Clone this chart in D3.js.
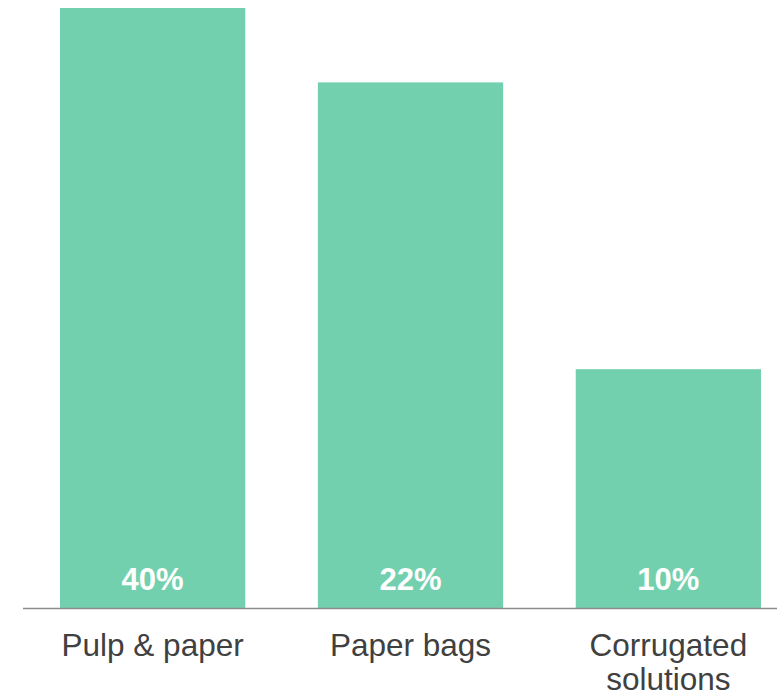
<!DOCTYPE html>
<html>
<head>
<meta charset="utf-8">
<script src="https://cdn.jsdelivr.net/npm/d3@7"></script>
<style>
  html, body { margin: 0; padding: 0; background: #ffffff; }
  svg { display: block; }
</style>
</head>
<body>
<svg id="chart" width="777" height="697"></svg>
<script>
// Segments, bar sizes (relative units) and the share printed inside each bar
const categories = [["Pulp & paper"], ["Paper bags"], ["Corrugated", "solutions"]];
const barValues = [5.0, 4.38, 1.99];
const shareLabels = ["40%", "22%", "10%"];

const svg = d3.select("#chart");
const baseline = 608;

const x = d3.scaleBand()
  .domain(d3.range(categories.length))
  .range([60, 761])
  .paddingInner(0.2816)
  .paddingOuter(0);

const y = d3.scaleLinear()
  .domain([0, 5])
  .range([baseline, 8]);

const fontFamily = "'Liberation Sans', Arial, Helvetica, sans-serif";

// Bars
svg.append("g")
  .selectAll("rect")
  .data(barValues)
  .join("rect")
  .attr("x", (d, i) => x(i))
  .attr("y", d => y(d))
  .attr("width", x.bandwidth())
  .attr("height", d => baseline - y(d))
  .attr("fill", "#73d0ae");

// Share labels inside the bars
svg.append("g")
  .selectAll("text")
  .data(shareLabels)
  .join("text")
  .attr("x", (d, i) => x(i) + x.bandwidth() / 2)
  .attr("y", 590)
  .attr("text-anchor", "middle")
  .attr("font-family", fontFamily)
  .attr("font-weight", "bold")
  .attr("font-size", 31)
  .attr("fill", "#ffffff")
  .text(d => d);

// Baseline
svg.append("line")
  .attr("x1", 23)
  .attr("x2", 777)
  .attr("y1", baseline + 0.5)
  .attr("y2", baseline + 0.5)
  .attr("stroke", "#8c8c8c")
  .attr("stroke-width", 1.5);

// Category labels
const cat = svg.append("g")
  .selectAll("text")
  .data(categories)
  .join("text")
  .attr("x", (d, i) => x(i) + x.bandwidth() / 2)
  .attr("y", 656)
  .attr("text-anchor", "middle")
  .attr("font-family", fontFamily)
  .attr("font-size", 31.5)
  .attr("fill", "#404040");

cat.selectAll("tspan")
  .data(d => d)
  .join("tspan")
  .attr("x", function () { return d3.select(this.parentNode).attr("x"); })
  .attr("dy", (d, i) => i === 0 ? 0 : 34)
  .text(d => d);
</script>
</body>
</html>
